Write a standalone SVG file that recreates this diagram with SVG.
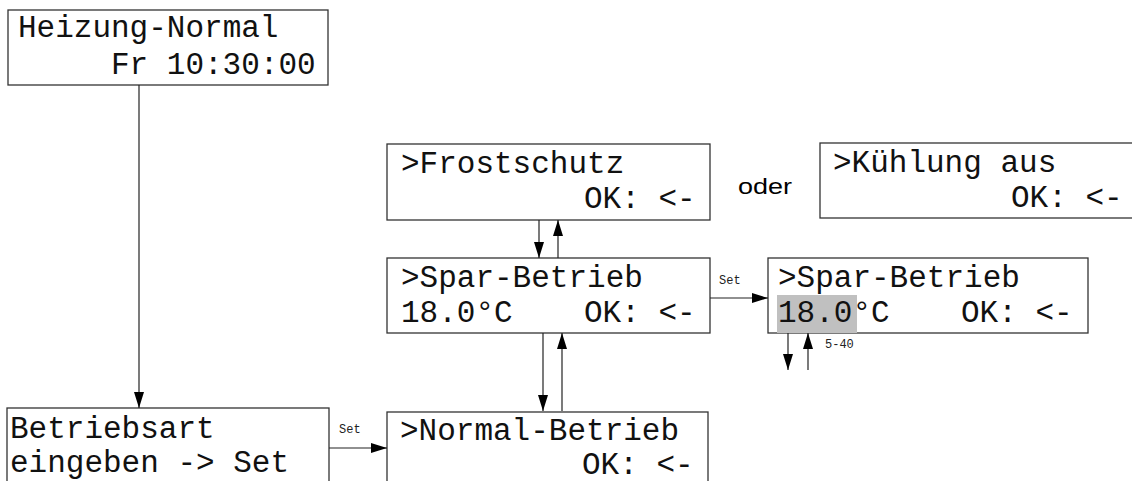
<svg xmlns="http://www.w3.org/2000/svg" width="1132" height="481" viewBox="0 0 1132 481">
<defs>
<style>
.box{fill:#fff;stroke:#333;stroke-width:1.3}
.t{font-family:"Liberation Mono","Courier New",monospace;font-size:31px;fill:#111}
.s{font-family:"Liberation Mono","Courier New",monospace;font-size:12px;fill:#222}
.c{stroke:#222;stroke-width:1.2;fill:none;marker-end:url(#ah)}
.hl{fill:#c0c0c0}
</style>
<marker id="ah" viewBox="0 0 16 10" refX="16" refY="5" markerWidth="16" markerHeight="10" markerUnits="userSpaceOnUse" orient="auto">
<path d="M0,0 L16,5 L0,10 z" fill="#000"/>
</marker>
</defs>
<rect width="1132" height="481" fill="#fff"/>
<g id="heizung">
<rect class="box" x="8" y="10" width="320" height="75"/>
<text class="t" x="18" y="37">Heizung-Normal</text>
<text class="t" x="111" y="74">Fr 10:30:00</text>
</g>
<g id="frostschutz">
<rect class="box" x="387" y="144" width="323" height="76"/>
<text class="t" x="401" y="173">&gt;Frostschutz</text>
<text class="t" x="584" y="208">OK: &lt;-</text>
</g>
<g id="oder">
<text x="738" y="194" font-family="Liberation Sans, Arial, sans-serif" font-size="22" textLength="54" lengthAdjust="spacingAndGlyphs" fill="#000">oder</text>
</g>
<g id="kuehlung">
<rect class="box" x="820" y="143" width="330" height="75"/>
<text class="t" x="833" y="172">&gt;Kühlung aus</text>
<text class="t" x="1011" y="207">OK: &lt;-</text>
</g>
<g id="spar">
<rect class="box" x="387" y="258" width="323" height="75"/>
<text class="t" x="401" y="287">&gt;Spar-Betrieb</text>
<text class="t" x="401" y="322">18.0°C</text>
<text class="t" x="584" y="322">OK: &lt;-</text>
</g>
<g id="spar-edit">
<rect class="box" x="768" y="258" width="320" height="75"/>
<rect class="hl" x="777" y="295" width="80" height="38"/>
<text class="t" x="778" y="287">&gt;Spar-Betrieb</text>
<text class="t" x="778" y="322">18.0°C</text>
<text class="t" x="961" y="322">OK: &lt;-</text>
</g>
<g id="betriebsart">
<rect class="box" x="7" y="408" width="322" height="90"/>
<text class="t" x="10" y="438">Betriebsart</text>
<text class="t" x="10" y="472">eingeben -&gt; Set</text>
</g>
<g id="normal">
<rect class="box" x="387" y="412" width="321" height="90"/>
<text class="t" x="400" y="440">&gt;Normal-Betrieb</text>
<text class="t" x="582" y="474">OK: &lt;-</text>
</g>
<g id="connectors">
<line class="c" x1="139" y1="85" x2="139" y2="408"/>
<line class="c" x1="329" y1="448" x2="387" y2="448"/>
<text class="s" x="339" y="433">Set</text>
<line class="c" x1="539" y1="220" x2="539" y2="258"/>
<line class="c" x1="558" y1="258" x2="558" y2="220"/>
<line class="c" x1="543" y1="333" x2="543" y2="411"/>
<line class="c" x1="562" y1="411" x2="562" y2="333"/>
<line class="c" x1="710" y1="298" x2="768" y2="298"/>
<text class="s" x="719" y="284">Set</text>
<line class="c" x1="788" y1="333" x2="788" y2="370"/>
<line class="c" x1="808" y1="370" x2="808" y2="333"/>
<text class="s" x="825" y="348">5-40</text>
</g>
</svg>
